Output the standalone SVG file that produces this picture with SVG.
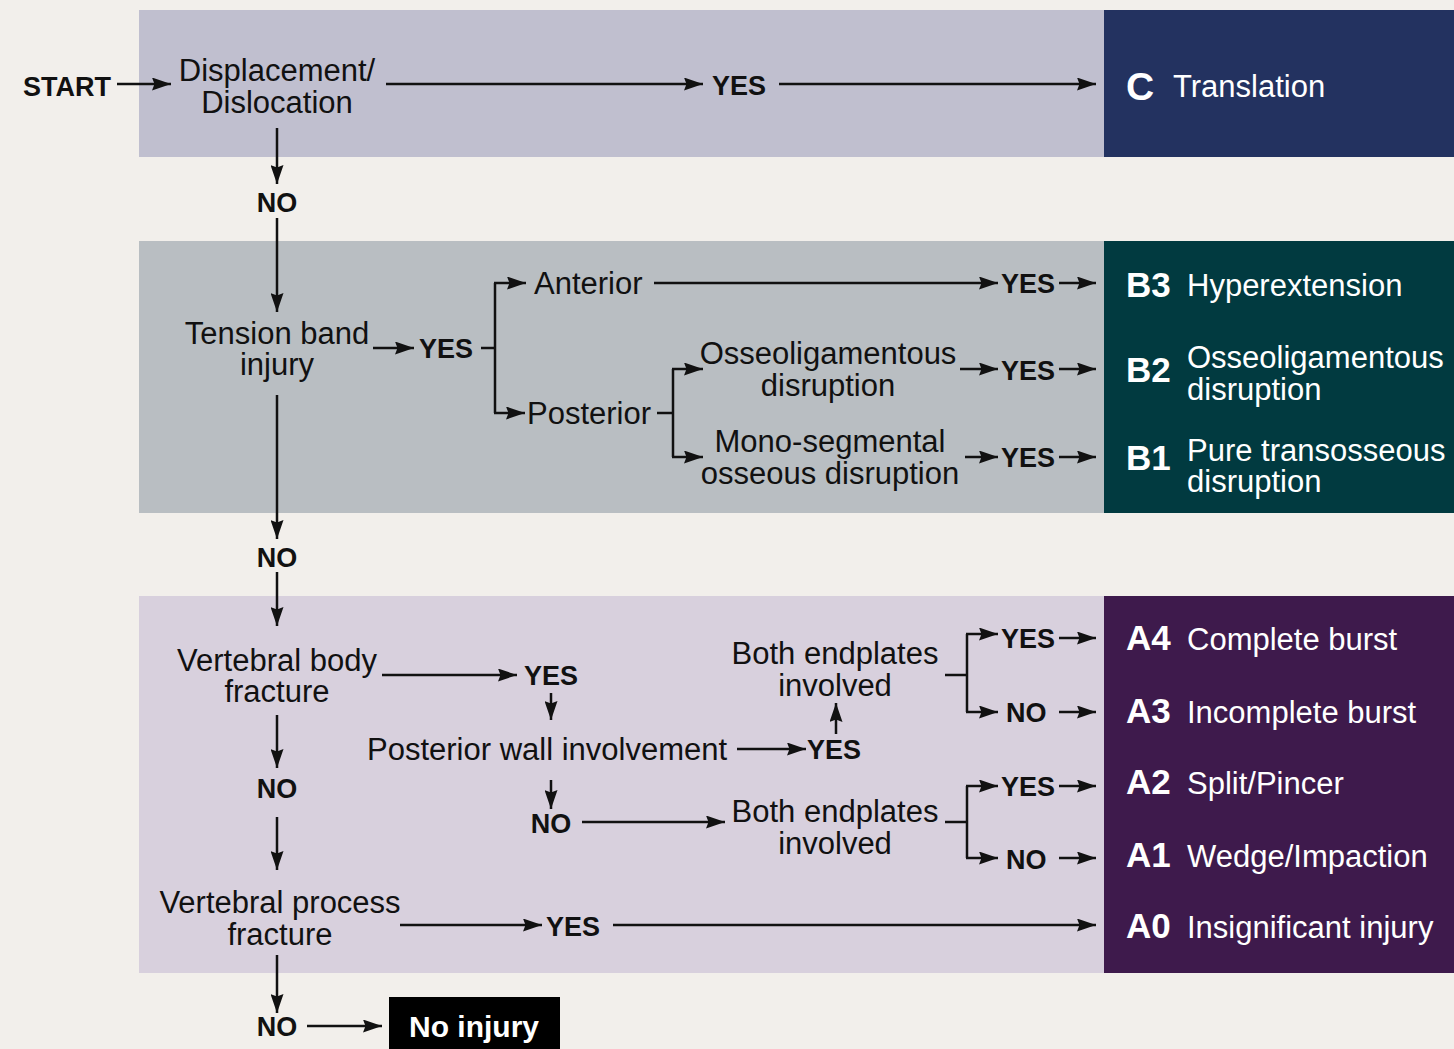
<svg xmlns="http://www.w3.org/2000/svg" width="1454" height="1049" viewBox="0 0 1454 1049">
<defs>
<marker id="ah" markerUnits="userSpaceOnUse" markerWidth="19" markerHeight="13" viewBox="0 0 19 13" refX="19" refY="6.5" orient="auto">
<path d="M0,0 L19,6.5 L0,13 L2.5,6.5 z" fill="#111"/>
</marker>
<style>
.t{font-family:"Liberation Sans",Arial,sans-serif;font-size:31px;fill:#111;}
.m{text-anchor:middle;}
.b{font-family:"Liberation Sans",Arial,sans-serif;font-size:27px;font-weight:bold;fill:#111;}
.w{font-family:"Liberation Sans",Arial,sans-serif;font-size:31px;fill:#fff;}
.wb{font-family:"Liberation Sans",Arial,sans-serif;font-size:35px;font-weight:bold;fill:#fff;}
.ln{stroke:#111;stroke-width:2.5;fill:none;}
.ar{stroke:#111;stroke-width:2.5;fill:none;marker-end:url(#ah);}
</style>
</defs>
<rect x="0" y="0" width="1454" height="1049" fill="#f2efeb"/>

<g id="panels">
<rect x="139" y="10" width="965" height="147" fill="#c0bfcf"/>
<rect x="139" y="241" width="965" height="272" fill="#b9bec2"/>
<rect x="139" y="596" width="965" height="377" fill="#d8d0dd"/>
</g>

<g id="outC">
<rect x="1104" y="10" width="350" height="147" fill="#233260"/>
<text class="wb" x="1126" y="100" style="font-size:39px">C</text>
<text class="w" x="1173" y="97">Translation</text>
</g>
<g id="outB">
<rect x="1104" y="241" width="350" height="272" fill="#013a40"/>
<text class="wb" x="1126" y="297">B3</text>
<text class="w" x="1187" y="296">Hyperextension</text>
<text class="wb" x="1126" y="382">B2</text>
<text class="w" x="1187" y="368">Osseoligamentous</text>
<text class="w" x="1187" y="400">disruption</text>
<text class="wb" x="1126" y="470">B1</text>
<text class="w" x="1187" y="461">Pure transosseous</text>
<text class="w" x="1187" y="492">disruption</text>
</g>
<g id="outA">
<rect x="1104" y="596" width="350" height="377" fill="#3e1a4c"/>
<text class="wb" x="1126" y="650">A4</text>
<text class="w" x="1187" y="650">Complete burst</text>
<text class="wb" x="1126" y="723">A3</text>
<text class="w" x="1187" y="723">Incomplete burst</text>
<text class="wb" x="1126" y="794">A2</text>
<text class="w" x="1187" y="794">Split/Pincer</text>
<text class="wb" x="1126" y="867">A1</text>
<text class="w" x="1187" y="867">Wedge/Impaction</text>
<text class="wb" x="1126" y="938">A0</text>
<text class="w" x="1187" y="938">Insignificant injury</text>
</g>

<g id="start"><text class="b" x="23" y="96">START</text></g>
<g id="displacement"><text class="t m" x="277" y="81">Displacement/</text><text class="t m" x="277" y="113">Dislocation</text></g>
<g id="tension"><text class="t m" x="277" y="344">Tension band</text><text class="t m" x="277" y="375">injury</text></g>
<g id="anterior"><text class="t" x="534" y="294">Anterior</text></g>
<g id="posterior"><text class="t" x="527" y="424">Posterior</text></g>
<g id="osseolig"><text class="t m" x="828" y="364">Osseoligamentous</text><text class="t m" x="828" y="396">disruption</text></g>
<g id="mono"><text class="t m" x="830" y="452">Mono-segmental</text><text class="t m" x="830" y="484">osseous disruption</text></g>
<g id="vbody"><text class="t m" x="277" y="671">Vertebral body</text><text class="t m" x="277" y="702">fracture</text></g>
<g id="pwall"><text class="t" x="367" y="760">Posterior wall involvement</text></g>
<g id="endplates1"><text class="t m" x="835" y="664">Both endplates</text><text class="t m" x="835" y="696">involved</text></g>
<g id="endplates2"><text class="t m" x="835" y="822">Both endplates</text><text class="t m" x="835" y="854">involved</text></g>
<g id="vprocess"><text class="t m" x="280" y="913">Vertebral process</text><text class="t m" x="280" y="945">fracture</text></g>
<g id="noinjury"><rect x="389" y="997" width="171" height="52" fill="#000"/><text class="b m" x="474" y="1037" style="fill:#fff;font-size:30px">No injury</text></g>

<g id="labels">
<text class="b" x="712" y="95">YES</text>
<text class="b m" x="277" y="212">NO</text>
<text class="b" x="419" y="358">YES</text>
<text class="b" x="1001" y="293">YES</text>
<text class="b" x="1001" y="380">YES</text>
<text class="b" x="1001" y="467">YES</text>
<text class="b m" x="277" y="567">NO</text>
<text class="b" x="524" y="685">YES</text>
<text class="b" x="807" y="759">YES</text>
<text class="b" x="1001" y="648">YES</text>
<text class="b" x="1006" y="722">NO</text>
<text class="b m" x="277" y="798">NO</text>
<text class="b m" x="551" y="833">NO</text>
<text class="b" x="1001" y="796">YES</text>
<text class="b" x="1006" y="869">NO</text>
<text class="b" x="546" y="936">YES</text>
<text class="b m" x="277" y="1036">NO</text>
</g>

<g id="connectors">
<line class="ar" x1="117" y1="84" x2="171" y2="84"/>
<line class="ar" x1="386" y1="84" x2="703" y2="84"/>
<line class="ar" x1="779" y1="84" x2="1096" y2="84"/>
<line class="ar" x1="277" y1="128" x2="277" y2="184"/>
<line class="ar" x1="277" y1="218" x2="277" y2="312"/>
<line class="ar" x1="373" y1="348" x2="414" y2="348"/>
<path class="ln" d="M481,348 H495"/>
<path class="ln" d="M495,283 V413"/>
<line class="ar" x1="494" y1="283" x2="526" y2="283"/>
<line class="ar" x1="494" y1="413" x2="525" y2="413"/>
<line class="ar" x1="654" y1="283" x2="998" y2="283"/>
<line class="ar" x1="1059" y1="283" x2="1096" y2="283"/>
<path class="ln" d="M657,413 H673"/>
<path class="ln" d="M673,369 V457"/>
<line class="ar" x1="672" y1="369" x2="703" y2="369"/>
<line class="ar" x1="672" y1="457" x2="703" y2="457"/>
<line class="ar" x1="960" y1="369" x2="998" y2="369"/>
<line class="ar" x1="1059" y1="369" x2="1096" y2="369"/>
<line class="ar" x1="965" y1="457" x2="998" y2="457"/>
<line class="ar" x1="1059" y1="457" x2="1096" y2="457"/>
<line class="ar" x1="277" y1="395" x2="277" y2="539"/>
<line class="ar" x1="277" y1="572" x2="277" y2="626"/>
<line class="ar" x1="382" y1="675" x2="517" y2="675"/>
<line class="ar" x1="551" y1="693" x2="551" y2="720"/>
<line class="ar" x1="737" y1="749" x2="806" y2="749"/>
<line class="ar" x1="836" y1="734" x2="836" y2="703"/>
<path class="ln" d="M945,675 H967"/>
<path class="ln" d="M967,634 V712"/>
<line class="ar" x1="966" y1="634" x2="998" y2="634"/>
<line class="ar" x1="966" y1="712" x2="998" y2="712"/>
<line class="ar" x1="1059" y1="638" x2="1096" y2="638"/>
<line class="ar" x1="1059" y1="712" x2="1096" y2="712"/>
<line class="ar" x1="277" y1="715" x2="277" y2="768"/>
<line class="ar" x1="277" y1="817" x2="277" y2="870"/>
<line class="ar" x1="551" y1="780" x2="551" y2="809"/>
<line class="ar" x1="582" y1="822" x2="725" y2="822"/>
<path class="ln" d="M945,822 H967"/>
<path class="ln" d="M967,786 V858"/>
<line class="ar" x1="966" y1="786" x2="998" y2="786"/>
<line class="ar" x1="966" y1="858" x2="998" y2="858"/>
<line class="ar" x1="1059" y1="786" x2="1096" y2="786"/>
<line class="ar" x1="1059" y1="858" x2="1096" y2="858"/>
<line class="ar" x1="400" y1="925" x2="542" y2="925"/>
<line class="ar" x1="613" y1="925" x2="1096" y2="925"/>
<line class="ar" x1="277" y1="955" x2="277" y2="1013"/>
<line class="ar" x1="307" y1="1026" x2="382" y2="1026"/>
</g>
</svg>
